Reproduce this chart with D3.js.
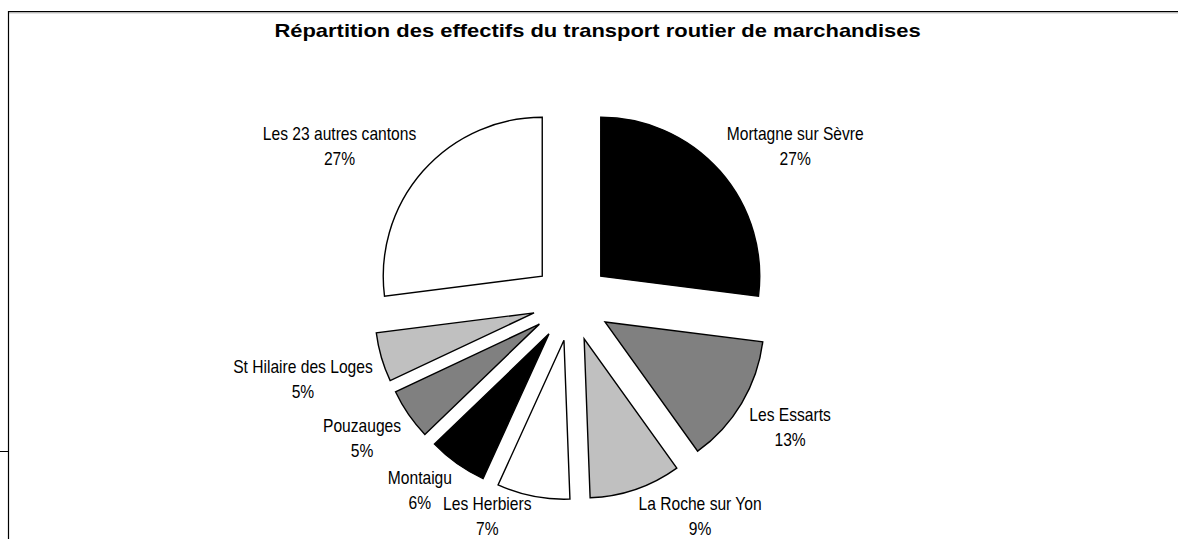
<!DOCTYPE html>
<html lang="fr">
<head>
<meta charset="utf-8">
<title>Répartition des effectifs du transport routier de marchandises</title>
<script src="https://cdn.jsdelivr.net/npm/d3@7"></script>
<style>
  body { margin: 0; background: #fff; }
  svg { display: block; font-family: Arial, "Liberation Sans", sans-serif; }
  .slices path { stroke: #000; stroke-width: 1.4px; stroke-linejoin: miter; }
  .labels text { font-size: 18px; fill: #000; }
  .title { font-size: 18px; font-weight: bold; fill: #000; }
</style>
</head>
<body>
<svg width="1178" height="539"></svg>
<script>
// effectifs par canton, en % (ordre horaire depuis midi)
var cantons = ["Mortagne sur Sèvre", "Les Essarts", "La Roche sur Yon", "Les Herbiers",
               "Montaigu", "Pouzauges", "St Hilaire des Loges", "Les 23 autres cantons"];
var effectifs = [27.0, 13.1, 9.3, 7.4, 6.0, 5.2, 5.0, 27.0];
var titre = "Répartition des effectifs du transport routier de marchandises";

var svg = d3.select("svg"), width = +svg.attr("width"), height = +svg.attr("height");

var cx = 571.5, cy = 302;   // centre du camembert
var r = 159;                // rayon
var explode = 39;           // éclatement des parts
var labelGap = 9;
var sx = 0.867;             // texte des étiquettes un peu resserré

var color = d3.scaleOrdinal()
    .domain(cantons)
    .range(["#000", "#808080", "#c0c0c0", "#fff", "#000", "#808080", "#c0c0c0", "#fff"]);

var fmt = d3.format(".0%");
var total = d3.sum(effectifs);

var data = cantons.map(function(c, i) { return {name: c, value: effectifs[i]}; });

var pie = d3.pie().sort(null).value(function(d) { return d.value; });
var arc = d3.arc().innerRadius(0).outerRadius(r);
var arcs = pie(data);

function mid(d) { return (d.startAngle + d.endAngle) / 2; }

// cadre
svg.append("line").attr("x1", 8).attr("x2", width).attr("y1", 11.5).attr("y2", 11.5)
    .attr("stroke", "#000").attr("stroke-width", 1.2);
svg.append("line").attr("x1", 8).attr("x2", width).attr("y1", 12.8).attr("y2", 12.8)
    .attr("stroke", "#999").attr("stroke-width", 1);
svg.append("line").attr("x1", 8.5).attr("x2", 8.5).attr("y1", 11).attr("y2", height)
    .attr("stroke", "#000").attr("stroke-width", 1.2);
svg.append("line").attr("x1", 0).attr("x2", 8).attr("y1", 451.5).attr("y2", 451.5)
    .attr("stroke", "#000").attr("stroke-width", 1);

// titre
svg.append("g")
    .attr("transform", "translate(597.5,37)")
  .append("text")
    .attr("class", "title")
    .attr("text-anchor", "middle")
    .attr("transform", "scale(1.22,1)")
    .text(titre);

// parts
var g = svg.append("g").attr("transform", "translate(" + cx + "," + cy + ")");

g.append("g")
    .attr("class", "slices")
  .selectAll("path")
  .data(arcs)
  .enter().append("path")
    .attr("d", arc)
    .attr("fill", function(d) { return color(d.data.name); })
    .attr("transform", function(d) {
      var a = mid(d);
      return "translate(" + (explode * Math.sin(a)) + "," + (-explode * Math.cos(a)) + ")";
    });

// étiquettes : le coin le plus proche du centre posé sur la bissectrice
var lineH = 25, capH = 13;
var labels = g.append("g")
    .attr("class", "labels")
  .selectAll("g")
  .data(arcs)
  .enter().append("g");

labels.each(function(d) {
  var lab = d3.select(this);
  var t1 = lab.append("text").attr("text-anchor", "middle").attr("transform", "scale(" + sx + ",1)")
      .attr("y", 0).text(d.data.name);
  var t2 = lab.append("text").attr("text-anchor", "middle").attr("transform", "scale(" + sx + ",1)")
      .attr("y", lineH).text(fmt(d.data.value / total));
  var w = Math.max(t1.node().getComputedTextLength(), t2.node().getComputedTextLength()) * sx;
  var hh = (capH + lineH) / 2;
  var a = mid(d), R = r + explode + labelGap;
  var px = R * Math.sin(a), py = -R * Math.cos(a);
  var bx = px + Math.sign(Math.sin(a)) * w / 2;
  var by = py - Math.sign(Math.cos(a)) * hh;
  var y1 = by - hh + capH;
  // garder la 2e ligne dans le cadre
  y1 = Math.min(y1, height - 4 - cy - lineH);
  lab.attr("transform", "translate(" + bx + "," + y1 + ")");
});
</script>
</body>
</html>
